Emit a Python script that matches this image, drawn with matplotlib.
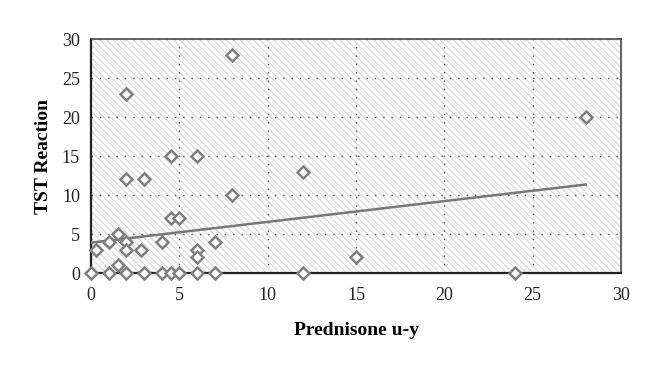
import numpy as np
import matplotlib
matplotlib.use("Agg")
import matplotlib.pyplot as plt
from matplotlib.patches import Rectangle

# Daten
prednisone = [0, 0.3, 1, 1, 1.5, 1.5, 2, 2, 2, 2, 2, 2.8, 3, 3, 4, 4,
              4.5, 4.5, 4.5, 5, 5, 6, 6, 6, 6, 7, 7, 8, 8, 12, 12, 15, 24, 28]
tst = [0, 3, 4, 0, 5, 1, 23, 12, 4, 3, 0, 3, 12, 0, 4, 0,
       15, 7, 0, 7, 0, 15, 3, 2, 0, 4, 0, 28, 10, 13, 0, 2, 0, 20]
# Trendlinie (Endpunkte)
trend_x = [0, 28]
trend_y = [3.9, 11.35]
x_ticks = [0, 5, 10, 15, 20, 25, 30]
y_ticks = [0, 5, 10, 15, 20, 25, 30]

plt.rcParams["font.family"] = ["Liberation Serif", "DejaVu Serif"]
plt.rcParams["hatch.linewidth"] = 0.9

fig = plt.figure(figsize=(6.6, 3.68), dpi=100)
ax = fig.add_axes([0.138, 0.258, 0.803, 0.636])

# schraffierter Hintergrund
bg = Rectangle((0, 0), 1, 1, transform=ax.transAxes, facecolor="white",
               edgecolor="#e0d5d5", hatch="\\\\\\\\\\", linewidth=0, zorder=0)
ax.add_patch(bg)
ax.patch.set_visible(False)

ax.plot(trend_x, trend_y, color="#777777", lw=1.8, zorder=3)

ax.plot(prednisone, tst, linestyle="none", marker="D", markersize=6.5,
        markerfacecolor="white", markeredgecolor="#7f7f7f",
        markeredgewidth=1.8, zorder=4, clip_on=False)

ax.set_xlim(0, 30)
ax.set_ylim(0, 30)
ax.set_xticks(x_ticks)
ax.set_yticks(y_ticks)
ax.tick_params(length=0, labelsize=13, colors="#222222")
ax.tick_params(axis="x", pad=10)
ax.tick_params(axis="y", pad=8)
ax.grid(True, color="#555555", linestyle=(0, (1, 5)), linewidth=1)
for name, s in ax.spines.items():
    s.set_color("#555555")
    s.set_linewidth(1.3)
ax.spines["left"].set_color("#222222")
ax.spines["bottom"].set_color("#222222")
ax.spines["left"].set_linewidth(1.6)
ax.spines["bottom"].set_linewidth(1.6)

ax.set_xlabel("Prednisone u-y", fontsize=14, fontweight="bold", labelpad=13)
ax.set_ylabel("TST Reaction", fontsize=14, fontweight="bold", labelpad=7)

fig.savefig("out.png", dpi=100)
